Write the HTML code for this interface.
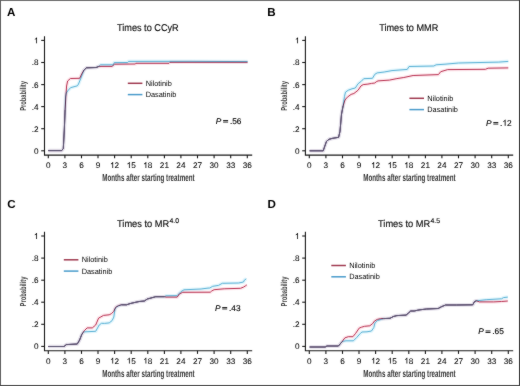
<!DOCTYPE html>
<html><head><meta charset="utf-8"><style>
html,body{margin:0;padding:0;background:#fff;}
body{width:520px;height:386px;overflow:hidden;}
svg{display:block;font-family:"Liberation Sans", sans-serif;text-rendering:geometricPrecision;}
.t{stroke:#000;stroke-width:0.14px;}
#w{width:520px;height:386px;will-change:transform;}
</style></head><body><div id="w">
<svg width="520" height="386" viewBox="0 0 520 386">
<defs><filter id="soft" x="0" y="0" width="520" height="386" filterUnits="userSpaceOnUse" color-interpolation-filters="sRGB"><feConvolveMatrix order="3" kernelMatrix="1 2 1 2 36 2 1 2 1" divisor="48" edgeMode="duplicate"/></filter>
</defs>
<g filter="url(#soft)">
<rect x="0" y="0" width="520" height="386" fill="#fff"/>

<text x="6.9" y="16.4" font-size="11.6" font-weight="bold" fill="#000">A</text>
<text x="117.0" y="30.9" font-size="9.9" fill="#111" class="t" textLength="61.7" lengthAdjust="spacingAndGlyphs">Times to CCyR</text>
<path d="M44.5,36.2 V155.1 H252.2" fill="none" stroke="#1a1a1a" stroke-width="1.1"/>
<line x1="41.2" y1="150.8" x2="44.5" y2="150.8" stroke="#1a1a1a" stroke-width="1.1"/>
<text x="38.5" y="153.7" font-size="8.2" fill="#000" stroke="#000" stroke-width="0.06" text-anchor="end">0</text>
<line x1="41.2" y1="128.7" x2="44.5" y2="128.7" stroke="#1a1a1a" stroke-width="1.1"/>
<text x="38.5" y="131.6" font-size="8.2" fill="#000" stroke="#000" stroke-width="0.06" text-anchor="end">.2</text>
<line x1="41.2" y1="106.6" x2="44.5" y2="106.6" stroke="#1a1a1a" stroke-width="1.1"/>
<text x="38.5" y="109.5" font-size="8.2" fill="#000" stroke="#000" stroke-width="0.06" text-anchor="end">.4</text>
<line x1="41.2" y1="84.6" x2="44.5" y2="84.6" stroke="#1a1a1a" stroke-width="1.1"/>
<text x="38.5" y="87.5" font-size="8.2" fill="#000" stroke="#000" stroke-width="0.06" text-anchor="end">.6</text>
<line x1="41.2" y1="62.5" x2="44.5" y2="62.5" stroke="#1a1a1a" stroke-width="1.1"/>
<text x="38.5" y="65.4" font-size="8.2" fill="#000" stroke="#000" stroke-width="0.06" text-anchor="end">.8</text>
<line x1="41.2" y1="40.4" x2="44.5" y2="40.4" stroke="#1a1a1a" stroke-width="1.1"/>
<path d="M763,0H583V1147Q518,1085 412,1023Q306,961 222,930V1104Q373,1175 486,1276Q599,1377 646,1472H763Z" fill="#000" stroke="#000" stroke-width="15" transform="translate(33.94,43.30) scale(0.004004,-0.004004)"/>
<line x1="48.3" y1="155.1" x2="48.3" y2="158.3" stroke="#1a1a1a" stroke-width="1.1"/>
<text x="48.3" y="168.0" font-size="8.2" fill="#000" stroke="#000" stroke-width="0.06" text-anchor="middle">0</text>
<line x1="64.9" y1="155.1" x2="64.9" y2="158.3" stroke="#1a1a1a" stroke-width="1.1"/>
<text x="64.9" y="168.0" font-size="8.2" fill="#000" stroke="#000" stroke-width="0.06" text-anchor="middle">3</text>
<line x1="81.5" y1="155.1" x2="81.5" y2="158.3" stroke="#1a1a1a" stroke-width="1.1"/>
<text x="81.5" y="168.0" font-size="8.2" fill="#000" stroke="#000" stroke-width="0.06" text-anchor="middle">6</text>
<line x1="98.0" y1="155.1" x2="98.0" y2="158.3" stroke="#1a1a1a" stroke-width="1.1"/>
<text x="98.0" y="168.0" font-size="8.2" fill="#000" stroke="#000" stroke-width="0.06" text-anchor="middle">9</text>
<line x1="114.6" y1="155.1" x2="114.6" y2="158.3" stroke="#1a1a1a" stroke-width="1.1"/>
<path d="M763,0H583V1147Q518,1085 412,1023Q306,961 222,930V1104Q373,1175 486,1276Q599,1377 646,1472H763Z" fill="#000" stroke="#000" stroke-width="15" transform="translate(110.06,168.00) scale(0.004004,-0.004004)"/>
<text x="114.62" y="168.0" font-size="8.2" fill="#000" stroke="#000" stroke-width="0.06">2</text>
<line x1="131.2" y1="155.1" x2="131.2" y2="158.3" stroke="#1a1a1a" stroke-width="1.1"/>
<path d="M763,0H583V1147Q518,1085 412,1023Q306,961 222,930V1104Q373,1175 486,1276Q599,1377 646,1472H763Z" fill="#000" stroke="#000" stroke-width="15" transform="translate(126.64,168.00) scale(0.004004,-0.004004)"/>
<text x="131.20" y="168.0" font-size="8.2" fill="#000" stroke="#000" stroke-width="0.06">5</text>
<line x1="147.8" y1="155.1" x2="147.8" y2="158.3" stroke="#1a1a1a" stroke-width="1.1"/>
<path d="M763,0H583V1147Q518,1085 412,1023Q306,961 222,930V1104Q373,1175 486,1276Q599,1377 646,1472H763Z" fill="#000" stroke="#000" stroke-width="15" transform="translate(143.22,168.00) scale(0.004004,-0.004004)"/>
<text x="147.78" y="168.0" font-size="8.2" fill="#000" stroke="#000" stroke-width="0.06">8</text>
<line x1="164.4" y1="155.1" x2="164.4" y2="158.3" stroke="#1a1a1a" stroke-width="1.1"/>
<text x="164.4" y="168.0" font-size="8.2" fill="#000" stroke="#000" stroke-width="0.06" text-anchor="middle">21</text>
<line x1="180.9" y1="155.1" x2="180.9" y2="158.3" stroke="#1a1a1a" stroke-width="1.1"/>
<text x="180.9" y="168.0" font-size="8.2" fill="#000" stroke="#000" stroke-width="0.06" text-anchor="middle">24</text>
<line x1="197.5" y1="155.1" x2="197.5" y2="158.3" stroke="#1a1a1a" stroke-width="1.1"/>
<text x="197.5" y="168.0" font-size="8.2" fill="#000" stroke="#000" stroke-width="0.06" text-anchor="middle">27</text>
<line x1="214.1" y1="155.1" x2="214.1" y2="158.3" stroke="#1a1a1a" stroke-width="1.1"/>
<text x="214.1" y="168.0" font-size="8.2" fill="#000" stroke="#000" stroke-width="0.06" text-anchor="middle">30</text>
<line x1="230.7" y1="155.1" x2="230.7" y2="158.3" stroke="#1a1a1a" stroke-width="1.1"/>
<text x="230.7" y="168.0" font-size="8.2" fill="#000" stroke="#000" stroke-width="0.06" text-anchor="middle">33</text>
<line x1="247.3" y1="155.1" x2="247.3" y2="158.3" stroke="#1a1a1a" stroke-width="1.1"/>
<text x="247.3" y="168.0" font-size="8.2" fill="#000" stroke="#000" stroke-width="0.06" text-anchor="middle">36</text>
<text x="102.2" y="181.3" font-size="10.2" font-weight="bold" fill="#333" textLength="92.4" lengthAdjust="spacingAndGlyphs">Months after starting treatment</text>
<text transform="translate(26.0,110.8) rotate(-90)" x="0" y="0" font-size="8.6" font-weight="bold" fill="#3a3a3a" textLength="29.8" lengthAdjust="spacingAndGlyphs">Probability</text>
<line x1="127.8" y1="83.3" x2="142.4" y2="83.3" stroke="#a03a50" stroke-width="1.5"/>
<line x1="127.8" y1="94.6" x2="142.4" y2="94.6" stroke="#4a9ccc" stroke-width="1.5"/>
<text x="145.7" y="85.8" font-size="7.6" fill="#000" textLength="26.1" lengthAdjust="spacingAndGlyphs">Nilotinib</text>
<text x="145.7" y="97.0" font-size="7.6" fill="#000" textLength="30.6" lengthAdjust="spacingAndGlyphs">Dasatinib</text>
<text x="215.8" y="123.7" font-size="8.3" fill="#000" stroke="#000" stroke-width="0.12" font-style="italic">P</text>
<rect x="223.1" y="120.10" width="5.0" height="0.9" fill="#111"/>
<rect x="223.1" y="121.60" width="5.0" height="0.9" fill="#111"/>
<text x="229.90" y="123.7" font-size="8.3" fill="#000" stroke="#000" stroke-width="0.12">.</text>
<text x="232.21" y="123.7" font-size="8.3" fill="#000" stroke="#000" stroke-width="0.12">5</text>
<text x="236.82" y="123.7" font-size="8.3" fill="#000" stroke="#000" stroke-width="0.12">6</text>
<polyline points="48.3,150.6 61.7,150.6 63.3,148.5 64.3,130.0 65.1,110.0 65.5,97.0 66.3,93.0 67.8,90.8 70.5,87.7 77.4,85.8 78.5,84.0 81.3,77.1 84.0,70.0 86.5,67.8 96.1,67.5 99.1,66.2 100.5,64.8 113.3,64.8 114.2,62.6 127.7,62.5 128.5,61.4 190.0,61.3 247.6,61.6" fill="none" stroke="#7fd4f0" stroke-opacity="0.22" stroke-width="3.6" stroke-linejoin="round"/>
<polyline points="48.3,150.6 61.7,150.6 63.3,148.5 64.3,130.0 65.1,110.0 65.9,96.0 66.6,86.0 67.6,81.0 70.4,78.5 79.7,78.3 81.7,74.0 84.0,70.0 86.5,67.8 96.1,67.5 99.1,66.4 112.0,66.4 114.6,64.2 135.4,64.0 135.8,63.3 169.0,63.3 170.0,62.3 247.6,62.3" fill="none" stroke="#f07090" stroke-opacity="0.16" stroke-width="3.6" stroke-linejoin="round"/>
<polyline points="48.3,150.6 61.7,150.6 63.3,148.5 64.3,130.0 65.1,110.0 65.5,97.0 66.3,93.0 67.8,90.8 70.5,87.7 77.4,85.8 78.5,84.0 81.3,77.1 84.0,70.0 86.5,67.8 96.1,67.5 99.1,66.2 100.5,64.8 113.3,64.8 114.2,62.6 127.7,62.5 128.5,61.4 190.0,61.3 247.6,61.6" fill="none" stroke="#5cb2d6" stroke-width="1.0" stroke-linejoin="round"/>
<polyline points="48.3,150.6 61.7,150.6 63.3,148.5 64.3,130.0 65.1,110.0 65.9,96.0 66.6,86.0 67.6,81.0 70.4,78.5 79.7,78.3 81.7,74.0 84.0,70.0 86.5,67.8 96.1,67.5 99.1,66.4 112.0,66.4 114.6,64.2 135.4,64.0 135.8,63.3 169.0,63.3 170.0,62.3 247.6,62.3" fill="none" stroke="#bb3a5a" stroke-width="1.0" stroke-linejoin="round" style="mix-blend-mode:multiply"/>
<polyline points="48.3,150.6 61.7,150.6 63.3,148.5 64.3,130.0 65.1,110.0" fill="none" stroke="#5e5874" stroke-width="1.0" stroke-linejoin="round"/>
<polyline points="84.0,70.0 86.5,67.8 96.1,67.5 99.1,66.3" fill="none" stroke="#5e5874" stroke-width="1.0" stroke-linejoin="round"/>
<text x="267.3" y="16.0" font-size="11.6" font-weight="bold" fill="#000">B</text>
<text x="379.2" y="30.9" font-size="9.9" fill="#111" class="t" textLength="59.1" lengthAdjust="spacingAndGlyphs">Times to MMR</text>
<path d="M305.4,36.2 V155.1 H513.2" fill="none" stroke="#1a1a1a" stroke-width="1.1"/>
<line x1="302.2" y1="150.8" x2="305.4" y2="150.8" stroke="#1a1a1a" stroke-width="1.1"/>
<text x="299.5" y="153.7" font-size="8.2" fill="#000" stroke="#000" stroke-width="0.06" text-anchor="end">0</text>
<line x1="302.2" y1="128.7" x2="305.4" y2="128.7" stroke="#1a1a1a" stroke-width="1.1"/>
<text x="299.5" y="131.6" font-size="8.2" fill="#000" stroke="#000" stroke-width="0.06" text-anchor="end">.2</text>
<line x1="302.2" y1="106.6" x2="305.4" y2="106.6" stroke="#1a1a1a" stroke-width="1.1"/>
<text x="299.5" y="109.5" font-size="8.2" fill="#000" stroke="#000" stroke-width="0.06" text-anchor="end">.4</text>
<line x1="302.2" y1="84.6" x2="305.4" y2="84.6" stroke="#1a1a1a" stroke-width="1.1"/>
<text x="299.5" y="87.5" font-size="8.2" fill="#000" stroke="#000" stroke-width="0.06" text-anchor="end">.6</text>
<line x1="302.2" y1="62.5" x2="305.4" y2="62.5" stroke="#1a1a1a" stroke-width="1.1"/>
<text x="299.5" y="65.4" font-size="8.2" fill="#000" stroke="#000" stroke-width="0.06" text-anchor="end">.8</text>
<line x1="302.2" y1="40.4" x2="305.4" y2="40.4" stroke="#1a1a1a" stroke-width="1.1"/>
<path d="M763,0H583V1147Q518,1085 412,1023Q306,961 222,930V1104Q373,1175 486,1276Q599,1377 646,1472H763Z" fill="#000" stroke="#000" stroke-width="15" transform="translate(294.94,43.30) scale(0.004004,-0.004004)"/>
<line x1="309.3" y1="155.1" x2="309.3" y2="158.3" stroke="#1a1a1a" stroke-width="1.1"/>
<text x="309.3" y="168.0" font-size="8.2" fill="#000" stroke="#000" stroke-width="0.06" text-anchor="middle">0</text>
<line x1="325.9" y1="155.1" x2="325.9" y2="158.3" stroke="#1a1a1a" stroke-width="1.1"/>
<text x="325.9" y="168.0" font-size="8.2" fill="#000" stroke="#000" stroke-width="0.06" text-anchor="middle">3</text>
<line x1="342.5" y1="155.1" x2="342.5" y2="158.3" stroke="#1a1a1a" stroke-width="1.1"/>
<text x="342.5" y="168.0" font-size="8.2" fill="#000" stroke="#000" stroke-width="0.06" text-anchor="middle">6</text>
<line x1="359.0" y1="155.1" x2="359.0" y2="158.3" stroke="#1a1a1a" stroke-width="1.1"/>
<text x="359.0" y="168.0" font-size="8.2" fill="#000" stroke="#000" stroke-width="0.06" text-anchor="middle">9</text>
<line x1="375.6" y1="155.1" x2="375.6" y2="158.3" stroke="#1a1a1a" stroke-width="1.1"/>
<path d="M763,0H583V1147Q518,1085 412,1023Q306,961 222,930V1104Q373,1175 486,1276Q599,1377 646,1472H763Z" fill="#000" stroke="#000" stroke-width="15" transform="translate(371.06,168.00) scale(0.004004,-0.004004)"/>
<text x="375.62" y="168.0" font-size="8.2" fill="#000" stroke="#000" stroke-width="0.06">2</text>
<line x1="392.2" y1="155.1" x2="392.2" y2="158.3" stroke="#1a1a1a" stroke-width="1.1"/>
<path d="M763,0H583V1147Q518,1085 412,1023Q306,961 222,930V1104Q373,1175 486,1276Q599,1377 646,1472H763Z" fill="#000" stroke="#000" stroke-width="15" transform="translate(387.64,168.00) scale(0.004004,-0.004004)"/>
<text x="392.20" y="168.0" font-size="8.2" fill="#000" stroke="#000" stroke-width="0.06">5</text>
<line x1="408.8" y1="155.1" x2="408.8" y2="158.3" stroke="#1a1a1a" stroke-width="1.1"/>
<path d="M763,0H583V1147Q518,1085 412,1023Q306,961 222,930V1104Q373,1175 486,1276Q599,1377 646,1472H763Z" fill="#000" stroke="#000" stroke-width="15" transform="translate(404.22,168.00) scale(0.004004,-0.004004)"/>
<text x="408.78" y="168.0" font-size="8.2" fill="#000" stroke="#000" stroke-width="0.06">8</text>
<line x1="425.4" y1="155.1" x2="425.4" y2="158.3" stroke="#1a1a1a" stroke-width="1.1"/>
<text x="425.4" y="168.0" font-size="8.2" fill="#000" stroke="#000" stroke-width="0.06" text-anchor="middle">21</text>
<line x1="441.9" y1="155.1" x2="441.9" y2="158.3" stroke="#1a1a1a" stroke-width="1.1"/>
<text x="441.9" y="168.0" font-size="8.2" fill="#000" stroke="#000" stroke-width="0.06" text-anchor="middle">24</text>
<line x1="458.5" y1="155.1" x2="458.5" y2="158.3" stroke="#1a1a1a" stroke-width="1.1"/>
<text x="458.5" y="168.0" font-size="8.2" fill="#000" stroke="#000" stroke-width="0.06" text-anchor="middle">27</text>
<line x1="475.1" y1="155.1" x2="475.1" y2="158.3" stroke="#1a1a1a" stroke-width="1.1"/>
<text x="475.1" y="168.0" font-size="8.2" fill="#000" stroke="#000" stroke-width="0.06" text-anchor="middle">30</text>
<line x1="491.7" y1="155.1" x2="491.7" y2="158.3" stroke="#1a1a1a" stroke-width="1.1"/>
<text x="491.7" y="168.0" font-size="8.2" fill="#000" stroke="#000" stroke-width="0.06" text-anchor="middle">33</text>
<line x1="508.3" y1="155.1" x2="508.3" y2="158.3" stroke="#1a1a1a" stroke-width="1.1"/>
<text x="508.3" y="168.0" font-size="8.2" fill="#000" stroke="#000" stroke-width="0.06" text-anchor="middle">36</text>
<text x="363.2" y="181.3" font-size="10.2" font-weight="bold" fill="#333" textLength="92.4" lengthAdjust="spacingAndGlyphs">Months after starting treatment</text>
<text transform="translate(287.0,110.8) rotate(-90)" x="0" y="0" font-size="8.6" font-weight="bold" fill="#3a3a3a" textLength="29.8" lengthAdjust="spacingAndGlyphs">Probability</text>
<line x1="409.4" y1="98.3" x2="424.0" y2="98.3" stroke="#a03a50" stroke-width="1.5"/>
<line x1="409.4" y1="109.6" x2="424.0" y2="109.6" stroke="#4a9ccc" stroke-width="1.5"/>
<text x="427.3" y="100.8" font-size="7.6" fill="#000" textLength="26.1" lengthAdjust="spacingAndGlyphs">Nilotinib</text>
<text x="427.3" y="112.0" font-size="7.6" fill="#000" textLength="30.6" lengthAdjust="spacingAndGlyphs">Dasatinib</text>
<text x="486.0" y="125.7" font-size="8.3" fill="#000" stroke="#000" stroke-width="0.12" font-style="italic">P</text>
<rect x="493.3" y="122.10" width="5.0" height="0.9" fill="#111"/>
<rect x="493.3" y="123.60" width="5.0" height="0.9" fill="#111"/>
<text x="500.10" y="125.7" font-size="8.3" fill="#000" stroke="#000" stroke-width="0.12">.</text>
<path d="M763,0H583V1147Q518,1085 412,1023Q306,961 222,930V1104Q373,1175 486,1276Q599,1377 646,1472H763Z" fill="#000" stroke="#000" stroke-width="30" transform="translate(502.41,125.70) scale(0.004053,-0.004053)"/>
<text x="507.02" y="125.7" font-size="8.3" fill="#000" stroke="#000" stroke-width="0.12">2</text>
<polyline points="309.6,150.8 323.2,150.8 324.5,147.0 326.5,141.3 329.0,139.3 332.2,138.4 338.6,137.3 340.0,131.3 341.5,114.2 343.1,106.0 344.5,96.3 345.5,92.1 348.3,90.2 352.0,88.8 355.3,88.0 358.1,83.7 361.3,81.3 363.7,78.7 372.5,78.3 374.8,74.3 377.2,72.9 384.2,72.0 392.0,70.6 407.3,69.4 409.0,66.5 433.8,66.0 436.1,64.8 445.0,64.2 458.5,63.0 498.8,62.1 508.3,61.4" fill="none" stroke="#7fd4f0" stroke-opacity="0.22" stroke-width="3.6" stroke-linejoin="round"/>
<polyline points="309.6,150.8 323.2,150.8 324.5,147.0 326.5,141.3 329.0,139.3 332.2,138.4 338.6,137.3 340.0,131.3 341.5,114.2 343.1,106.0 345.0,100.0 347.3,97.2 351.1,94.4 353.9,93.5 358.1,90.2 360.9,86.0 363.2,84.6 367.9,84.1 371.6,83.4 374.8,83.0 376.2,81.8 378.0,80.9 389.4,80.1 396.9,78.6 403.8,77.5 413.1,75.5 438.4,74.6 440.7,71.7 447.7,69.6 485.4,69.3 488.1,68.2 508.3,67.9" fill="none" stroke="#f07090" stroke-opacity="0.16" stroke-width="3.6" stroke-linejoin="round"/>
<polyline points="309.6,150.8 323.2,150.8 324.5,147.0 326.5,141.3 329.0,139.3 332.2,138.4 338.6,137.3 340.0,131.3 341.5,114.2 343.1,106.0 344.5,96.3 345.5,92.1 348.3,90.2 352.0,88.8 355.3,88.0 358.1,83.7 361.3,81.3 363.7,78.7 372.5,78.3 374.8,74.3 377.2,72.9 384.2,72.0 392.0,70.6 407.3,69.4 409.0,66.5 433.8,66.0 436.1,64.8 445.0,64.2 458.5,63.0 498.8,62.1 508.3,61.4" fill="none" stroke="#5cb2d6" stroke-width="1.0" stroke-linejoin="round"/>
<polyline points="309.6,150.8 323.2,150.8 324.5,147.0 326.5,141.3 329.0,139.3 332.2,138.4 338.6,137.3 340.0,131.3 341.5,114.2 343.1,106.0 345.0,100.0 347.3,97.2 351.1,94.4 353.9,93.5 358.1,90.2 360.9,86.0 363.2,84.6 367.9,84.1 371.6,83.4 374.8,83.0 376.2,81.8 378.0,80.9 389.4,80.1 396.9,78.6 403.8,77.5 413.1,75.5 438.4,74.6 440.7,71.7 447.7,69.6 485.4,69.3 488.1,68.2 508.3,67.9" fill="none" stroke="#bb3a5a" stroke-width="1.0" stroke-linejoin="round" style="mix-blend-mode:multiply"/>
<polyline points="309.6,150.8 323.2,150.8 324.5,147.0 326.5,141.3 329.0,139.3 332.2,138.4 338.6,137.3 340.0,131.3 341.5,114.2 343.1,106.0" fill="none" stroke="#5e5874" stroke-width="1.0" stroke-linejoin="round"/>
<text x="7.3" y="208.0" font-size="11.6" font-weight="bold" fill="#000">C</text>
<text x="117.0" y="226.5" font-size="9.9" fill="#111" class="t" textLength="52.2" lengthAdjust="spacingAndGlyphs">Times to MR</text>
<text x="169.5" y="222.9" font-size="6.9" fill="#111" class="t">4.0</text>
<path d="M44.5,231.8 V350.7 H252.2" fill="none" stroke="#1a1a1a" stroke-width="1.1"/>
<line x1="41.2" y1="346.4" x2="44.5" y2="346.4" stroke="#1a1a1a" stroke-width="1.1"/>
<text x="38.5" y="349.3" font-size="8.2" fill="#000" stroke="#000" stroke-width="0.06" text-anchor="end">0</text>
<line x1="41.2" y1="324.3" x2="44.5" y2="324.3" stroke="#1a1a1a" stroke-width="1.1"/>
<text x="38.5" y="327.2" font-size="8.2" fill="#000" stroke="#000" stroke-width="0.06" text-anchor="end">.2</text>
<line x1="41.2" y1="302.2" x2="44.5" y2="302.2" stroke="#1a1a1a" stroke-width="1.1"/>
<text x="38.5" y="305.1" font-size="8.2" fill="#000" stroke="#000" stroke-width="0.06" text-anchor="end">.4</text>
<line x1="41.2" y1="280.2" x2="44.5" y2="280.2" stroke="#1a1a1a" stroke-width="1.1"/>
<text x="38.5" y="283.1" font-size="8.2" fill="#000" stroke="#000" stroke-width="0.06" text-anchor="end">.6</text>
<line x1="41.2" y1="258.1" x2="44.5" y2="258.1" stroke="#1a1a1a" stroke-width="1.1"/>
<text x="38.5" y="261.0" font-size="8.2" fill="#000" stroke="#000" stroke-width="0.06" text-anchor="end">.8</text>
<line x1="41.2" y1="236.0" x2="44.5" y2="236.0" stroke="#1a1a1a" stroke-width="1.1"/>
<path d="M763,0H583V1147Q518,1085 412,1023Q306,961 222,930V1104Q373,1175 486,1276Q599,1377 646,1472H763Z" fill="#000" stroke="#000" stroke-width="15" transform="translate(33.94,238.90) scale(0.004004,-0.004004)"/>
<line x1="48.3" y1="350.7" x2="48.3" y2="353.9" stroke="#1a1a1a" stroke-width="1.1"/>
<text x="48.3" y="363.6" font-size="8.2" fill="#000" stroke="#000" stroke-width="0.06" text-anchor="middle">0</text>
<line x1="64.9" y1="350.7" x2="64.9" y2="353.9" stroke="#1a1a1a" stroke-width="1.1"/>
<text x="64.9" y="363.6" font-size="8.2" fill="#000" stroke="#000" stroke-width="0.06" text-anchor="middle">3</text>
<line x1="81.5" y1="350.7" x2="81.5" y2="353.9" stroke="#1a1a1a" stroke-width="1.1"/>
<text x="81.5" y="363.6" font-size="8.2" fill="#000" stroke="#000" stroke-width="0.06" text-anchor="middle">6</text>
<line x1="98.0" y1="350.7" x2="98.0" y2="353.9" stroke="#1a1a1a" stroke-width="1.1"/>
<text x="98.0" y="363.6" font-size="8.2" fill="#000" stroke="#000" stroke-width="0.06" text-anchor="middle">9</text>
<line x1="114.6" y1="350.7" x2="114.6" y2="353.9" stroke="#1a1a1a" stroke-width="1.1"/>
<path d="M763,0H583V1147Q518,1085 412,1023Q306,961 222,930V1104Q373,1175 486,1276Q599,1377 646,1472H763Z" fill="#000" stroke="#000" stroke-width="15" transform="translate(110.06,363.60) scale(0.004004,-0.004004)"/>
<text x="114.62" y="363.6" font-size="8.2" fill="#000" stroke="#000" stroke-width="0.06">2</text>
<line x1="131.2" y1="350.7" x2="131.2" y2="353.9" stroke="#1a1a1a" stroke-width="1.1"/>
<path d="M763,0H583V1147Q518,1085 412,1023Q306,961 222,930V1104Q373,1175 486,1276Q599,1377 646,1472H763Z" fill="#000" stroke="#000" stroke-width="15" transform="translate(126.64,363.60) scale(0.004004,-0.004004)"/>
<text x="131.20" y="363.6" font-size="8.2" fill="#000" stroke="#000" stroke-width="0.06">5</text>
<line x1="147.8" y1="350.7" x2="147.8" y2="353.9" stroke="#1a1a1a" stroke-width="1.1"/>
<path d="M763,0H583V1147Q518,1085 412,1023Q306,961 222,930V1104Q373,1175 486,1276Q599,1377 646,1472H763Z" fill="#000" stroke="#000" stroke-width="15" transform="translate(143.22,363.60) scale(0.004004,-0.004004)"/>
<text x="147.78" y="363.6" font-size="8.2" fill="#000" stroke="#000" stroke-width="0.06">8</text>
<line x1="164.4" y1="350.7" x2="164.4" y2="353.9" stroke="#1a1a1a" stroke-width="1.1"/>
<text x="164.4" y="363.6" font-size="8.2" fill="#000" stroke="#000" stroke-width="0.06" text-anchor="middle">21</text>
<line x1="180.9" y1="350.7" x2="180.9" y2="353.9" stroke="#1a1a1a" stroke-width="1.1"/>
<text x="180.9" y="363.6" font-size="8.2" fill="#000" stroke="#000" stroke-width="0.06" text-anchor="middle">24</text>
<line x1="197.5" y1="350.7" x2="197.5" y2="353.9" stroke="#1a1a1a" stroke-width="1.1"/>
<text x="197.5" y="363.6" font-size="8.2" fill="#000" stroke="#000" stroke-width="0.06" text-anchor="middle">27</text>
<line x1="214.1" y1="350.7" x2="214.1" y2="353.9" stroke="#1a1a1a" stroke-width="1.1"/>
<text x="214.1" y="363.6" font-size="8.2" fill="#000" stroke="#000" stroke-width="0.06" text-anchor="middle">30</text>
<line x1="230.7" y1="350.7" x2="230.7" y2="353.9" stroke="#1a1a1a" stroke-width="1.1"/>
<text x="230.7" y="363.6" font-size="8.2" fill="#000" stroke="#000" stroke-width="0.06" text-anchor="middle">33</text>
<line x1="247.3" y1="350.7" x2="247.3" y2="353.9" stroke="#1a1a1a" stroke-width="1.1"/>
<text x="247.3" y="363.6" font-size="8.2" fill="#000" stroke="#000" stroke-width="0.06" text-anchor="middle">36</text>
<text x="102.2" y="376.9" font-size="10.2" font-weight="bold" fill="#333" textLength="92.4" lengthAdjust="spacingAndGlyphs">Months after starting treatment</text>
<text transform="translate(26.0,306.4) rotate(-90)" x="0" y="0" font-size="8.6" font-weight="bold" fill="#3a3a3a" textLength="29.8" lengthAdjust="spacingAndGlyphs">Probability</text>
<line x1="63.8" y1="259.8" x2="78.4" y2="259.8" stroke="#a03a50" stroke-width="1.5"/>
<line x1="63.8" y1="271.1" x2="78.4" y2="271.1" stroke="#4a9ccc" stroke-width="1.5"/>
<text x="81.7" y="262.3" font-size="7.6" fill="#000" textLength="26.1" lengthAdjust="spacingAndGlyphs">Nilotinib</text>
<text x="81.7" y="273.5" font-size="7.6" fill="#000" textLength="30.6" lengthAdjust="spacingAndGlyphs">Dasatinib</text>
<text x="214.9" y="310.6" font-size="8.3" fill="#000" stroke="#000" stroke-width="0.12" font-style="italic">P</text>
<rect x="222.2" y="307.00" width="5.0" height="0.9" fill="#111"/>
<rect x="222.2" y="308.50" width="5.0" height="0.9" fill="#111"/>
<text x="229.00" y="310.6" font-size="8.3" fill="#000" stroke="#000" stroke-width="0.12">.</text>
<text x="231.31" y="310.6" font-size="8.3" fill="#000" stroke="#000" stroke-width="0.12">4</text>
<text x="235.92" y="310.6" font-size="8.3" fill="#000" stroke="#000" stroke-width="0.12">3</text>
<polyline points="48.3,346.5 64.0,346.5 66.3,344.6 77.3,344.0 79.6,340.0 81.9,334.2 83.6,331.9 95.7,331.3 99.2,325.0 101.5,323.3 104.6,323.4 109.2,322.9 112.1,320.6 113.8,317.1 115.0,309.0 116.7,306.7 121.3,304.8 126.5,304.8 130.0,303.6 134.6,302.5 139.2,301.5 144.4,301.0 147.3,299.0 151.0,298.0 155.7,296.7 164.5,296.7 166.0,295.8 177.2,295.6 181.0,291.6 184.0,289.8 201.1,289.0 208.0,288.1 209.8,288.0 212.7,286.3 218.5,285.4 222.3,283.3 238.7,283.0 243.5,282.0 244.4,280.1 246.3,278.8" fill="none" stroke="#7fd4f0" stroke-opacity="0.22" stroke-width="3.6" stroke-linejoin="round"/>
<polyline points="48.3,346.5 64.0,346.5 66.3,344.6 77.3,344.0 79.6,340.0 81.9,334.2 84.2,330.8 87.1,327.9 92.3,327.9 95.7,325.0 98.6,318.1 100.9,316.9 103.5,315.4 109.2,314.8 111.5,313.6 113.8,311.3 115.6,307.3 118.5,305.6 121.3,304.8 126.5,304.8 130.0,303.6 134.6,302.5 139.2,301.5 144.4,301.0 147.3,299.0 151.0,298.0 155.7,296.7 164.5,296.7 166.0,297.1 177.2,297.1 179.5,293.9 182.7,292.3 210.3,292.2 211.7,291.0 214.1,289.7 224.2,288.8 240.6,288.3 243.5,287.1 245.4,285.9 246.8,284.9" fill="none" stroke="#f07090" stroke-opacity="0.16" stroke-width="3.6" stroke-linejoin="round"/>
<polyline points="48.3,346.5 64.0,346.5 66.3,344.6 77.3,344.0 79.6,340.0 81.9,334.2 83.6,331.9 95.7,331.3 99.2,325.0 101.5,323.3 104.6,323.4 109.2,322.9 112.1,320.6 113.8,317.1 115.0,309.0 116.7,306.7 121.3,304.8 126.5,304.8 130.0,303.6 134.6,302.5 139.2,301.5 144.4,301.0 147.3,299.0 151.0,298.0 155.7,296.7 164.5,296.7 166.0,295.8 177.2,295.6 181.0,291.6 184.0,289.8 201.1,289.0 208.0,288.1 209.8,288.0 212.7,286.3 218.5,285.4 222.3,283.3 238.7,283.0 243.5,282.0 244.4,280.1 246.3,278.8" fill="none" stroke="#5cb2d6" stroke-width="1.0" stroke-linejoin="round"/>
<polyline points="48.3,346.5 64.0,346.5 66.3,344.6 77.3,344.0 79.6,340.0 81.9,334.2 84.2,330.8 87.1,327.9 92.3,327.9 95.7,325.0 98.6,318.1 100.9,316.9 103.5,315.4 109.2,314.8 111.5,313.6 113.8,311.3 115.6,307.3 118.5,305.6 121.3,304.8 126.5,304.8 130.0,303.6 134.6,302.5 139.2,301.5 144.4,301.0 147.3,299.0 151.0,298.0 155.7,296.7 164.5,296.7 166.0,297.1 177.2,297.1 179.5,293.9 182.7,292.3 210.3,292.2 211.7,291.0 214.1,289.7 224.2,288.8 240.6,288.3 243.5,287.1 245.4,285.9 246.8,284.9" fill="none" stroke="#bb3a5a" stroke-width="1.0" stroke-linejoin="round" style="mix-blend-mode:multiply"/>
<polyline points="48.3,346.5 64.0,346.5 66.3,344.6 77.3,344.0 79.6,340.0 81.9,334.2" fill="none" stroke="#5e5874" stroke-width="1.0" stroke-linejoin="round"/>
<polyline points="121.3,304.8 126.5,304.8 130.0,303.6 134.6,302.5 139.2,301.5 144.4,301.0 147.3,299.0 151.0,298.0 155.7,296.7 164.5,296.7" fill="none" stroke="#5e5874" stroke-width="1.0" stroke-linejoin="round"/>
<text x="267.5" y="208.4" font-size="11.6" font-weight="bold" fill="#000">D</text>
<text x="378.0" y="226.5" font-size="9.9" fill="#111" class="t" textLength="52.2" lengthAdjust="spacingAndGlyphs">Times to MR</text>
<text x="430.5" y="222.9" font-size="6.9" fill="#111" class="t">4.5</text>
<path d="M305.4,231.8 V350.7 H513.2" fill="none" stroke="#1a1a1a" stroke-width="1.1"/>
<line x1="302.2" y1="346.4" x2="305.4" y2="346.4" stroke="#1a1a1a" stroke-width="1.1"/>
<text x="299.5" y="349.3" font-size="8.2" fill="#000" stroke="#000" stroke-width="0.06" text-anchor="end">0</text>
<line x1="302.2" y1="324.3" x2="305.4" y2="324.3" stroke="#1a1a1a" stroke-width="1.1"/>
<text x="299.5" y="327.2" font-size="8.2" fill="#000" stroke="#000" stroke-width="0.06" text-anchor="end">.2</text>
<line x1="302.2" y1="302.2" x2="305.4" y2="302.2" stroke="#1a1a1a" stroke-width="1.1"/>
<text x="299.5" y="305.1" font-size="8.2" fill="#000" stroke="#000" stroke-width="0.06" text-anchor="end">.4</text>
<line x1="302.2" y1="280.2" x2="305.4" y2="280.2" stroke="#1a1a1a" stroke-width="1.1"/>
<text x="299.5" y="283.1" font-size="8.2" fill="#000" stroke="#000" stroke-width="0.06" text-anchor="end">.6</text>
<line x1="302.2" y1="258.1" x2="305.4" y2="258.1" stroke="#1a1a1a" stroke-width="1.1"/>
<text x="299.5" y="261.0" font-size="8.2" fill="#000" stroke="#000" stroke-width="0.06" text-anchor="end">.8</text>
<line x1="302.2" y1="236.0" x2="305.4" y2="236.0" stroke="#1a1a1a" stroke-width="1.1"/>
<path d="M763,0H583V1147Q518,1085 412,1023Q306,961 222,930V1104Q373,1175 486,1276Q599,1377 646,1472H763Z" fill="#000" stroke="#000" stroke-width="15" transform="translate(294.94,238.90) scale(0.004004,-0.004004)"/>
<line x1="309.3" y1="350.7" x2="309.3" y2="353.9" stroke="#1a1a1a" stroke-width="1.1"/>
<text x="309.3" y="363.6" font-size="8.2" fill="#000" stroke="#000" stroke-width="0.06" text-anchor="middle">0</text>
<line x1="325.9" y1="350.7" x2="325.9" y2="353.9" stroke="#1a1a1a" stroke-width="1.1"/>
<text x="325.9" y="363.6" font-size="8.2" fill="#000" stroke="#000" stroke-width="0.06" text-anchor="middle">3</text>
<line x1="342.5" y1="350.7" x2="342.5" y2="353.9" stroke="#1a1a1a" stroke-width="1.1"/>
<text x="342.5" y="363.6" font-size="8.2" fill="#000" stroke="#000" stroke-width="0.06" text-anchor="middle">6</text>
<line x1="359.0" y1="350.7" x2="359.0" y2="353.9" stroke="#1a1a1a" stroke-width="1.1"/>
<text x="359.0" y="363.6" font-size="8.2" fill="#000" stroke="#000" stroke-width="0.06" text-anchor="middle">9</text>
<line x1="375.6" y1="350.7" x2="375.6" y2="353.9" stroke="#1a1a1a" stroke-width="1.1"/>
<path d="M763,0H583V1147Q518,1085 412,1023Q306,961 222,930V1104Q373,1175 486,1276Q599,1377 646,1472H763Z" fill="#000" stroke="#000" stroke-width="15" transform="translate(371.06,363.60) scale(0.004004,-0.004004)"/>
<text x="375.62" y="363.6" font-size="8.2" fill="#000" stroke="#000" stroke-width="0.06">2</text>
<line x1="392.2" y1="350.7" x2="392.2" y2="353.9" stroke="#1a1a1a" stroke-width="1.1"/>
<path d="M763,0H583V1147Q518,1085 412,1023Q306,961 222,930V1104Q373,1175 486,1276Q599,1377 646,1472H763Z" fill="#000" stroke="#000" stroke-width="15" transform="translate(387.64,363.60) scale(0.004004,-0.004004)"/>
<text x="392.20" y="363.6" font-size="8.2" fill="#000" stroke="#000" stroke-width="0.06">5</text>
<line x1="408.8" y1="350.7" x2="408.8" y2="353.9" stroke="#1a1a1a" stroke-width="1.1"/>
<path d="M763,0H583V1147Q518,1085 412,1023Q306,961 222,930V1104Q373,1175 486,1276Q599,1377 646,1472H763Z" fill="#000" stroke="#000" stroke-width="15" transform="translate(404.22,363.60) scale(0.004004,-0.004004)"/>
<text x="408.78" y="363.6" font-size="8.2" fill="#000" stroke="#000" stroke-width="0.06">8</text>
<line x1="425.4" y1="350.7" x2="425.4" y2="353.9" stroke="#1a1a1a" stroke-width="1.1"/>
<text x="425.4" y="363.6" font-size="8.2" fill="#000" stroke="#000" stroke-width="0.06" text-anchor="middle">21</text>
<line x1="441.9" y1="350.7" x2="441.9" y2="353.9" stroke="#1a1a1a" stroke-width="1.1"/>
<text x="441.9" y="363.6" font-size="8.2" fill="#000" stroke="#000" stroke-width="0.06" text-anchor="middle">24</text>
<line x1="458.5" y1="350.7" x2="458.5" y2="353.9" stroke="#1a1a1a" stroke-width="1.1"/>
<text x="458.5" y="363.6" font-size="8.2" fill="#000" stroke="#000" stroke-width="0.06" text-anchor="middle">27</text>
<line x1="475.1" y1="350.7" x2="475.1" y2="353.9" stroke="#1a1a1a" stroke-width="1.1"/>
<text x="475.1" y="363.6" font-size="8.2" fill="#000" stroke="#000" stroke-width="0.06" text-anchor="middle">30</text>
<line x1="491.7" y1="350.7" x2="491.7" y2="353.9" stroke="#1a1a1a" stroke-width="1.1"/>
<text x="491.7" y="363.6" font-size="8.2" fill="#000" stroke="#000" stroke-width="0.06" text-anchor="middle">33</text>
<line x1="508.3" y1="350.7" x2="508.3" y2="353.9" stroke="#1a1a1a" stroke-width="1.1"/>
<text x="508.3" y="363.6" font-size="8.2" fill="#000" stroke="#000" stroke-width="0.06" text-anchor="middle">36</text>
<text x="363.2" y="376.9" font-size="10.2" font-weight="bold" fill="#333" textLength="92.4" lengthAdjust="spacingAndGlyphs">Months after starting treatment</text>
<text transform="translate(287.0,306.4) rotate(-90)" x="0" y="0" font-size="8.6" font-weight="bold" fill="#3a3a3a" textLength="29.8" lengthAdjust="spacingAndGlyphs">Probability</text>
<line x1="331.3" y1="265.5" x2="345.9" y2="265.5" stroke="#a03a50" stroke-width="1.5"/>
<line x1="331.3" y1="276.8" x2="345.9" y2="276.8" stroke="#4a9ccc" stroke-width="1.5"/>
<text x="349.2" y="268.0" font-size="7.6" fill="#000" textLength="26.1" lengthAdjust="spacingAndGlyphs">Nilotinib</text>
<text x="349.2" y="279.2" font-size="7.6" fill="#000" textLength="30.6" lengthAdjust="spacingAndGlyphs">Dasatinib</text>
<text x="478.2" y="334.1" font-size="8.3" fill="#000" stroke="#000" stroke-width="0.12" font-style="italic">P</text>
<rect x="485.5" y="330.50" width="5.0" height="0.9" fill="#111"/>
<rect x="485.5" y="332.00" width="5.0" height="0.9" fill="#111"/>
<text x="492.30" y="334.1" font-size="8.3" fill="#000" stroke="#000" stroke-width="0.12">.</text>
<text x="494.61" y="334.1" font-size="8.3" fill="#000" stroke="#000" stroke-width="0.12">6</text>
<text x="499.22" y="334.1" font-size="8.3" fill="#000" stroke="#000" stroke-width="0.12">5</text>
<polyline points="309.6,347.0 325.2,347.0 326.9,346.0 338.4,346.0 341.9,341.9 343.1,341.3 346.0,340.8 353.4,340.8 356.9,337.3 360.4,333.3 362.0,332.0 367.0,331.8 371.5,331.0 373.8,327.5 375.0,322.9 377.3,320.6 381.3,319.4 383.6,318.6 390.0,318.3 393.4,316.5 396.9,315.6 406.1,315.1 408.4,313.1 410.7,311.0 414.2,311.0 417.7,310.2 420.0,309.8 426.5,309.0 438.1,308.5 441.5,306.7 445.6,305.0 456.5,305.0 472.7,304.8 474.6,301.5 476.5,300.8 486.2,299.7 501.5,298.8 503.5,297.6 507.8,297.1" fill="none" stroke="#7fd4f0" stroke-opacity="0.22" stroke-width="3.6" stroke-linejoin="round"/>
<polyline points="309.6,347.0 325.2,347.0 326.9,346.0 338.4,346.0 341.9,341.9 344.8,337.9 348.3,336.7 352.9,336.7 355.7,333.3 359.2,328.1 361.5,327.2 364.6,326.3 369.8,325.8 372.7,323.5 374.4,321.1 377.3,319.4 380.8,318.6 383.6,318.6 390.0,318.3 393.4,316.5 396.9,315.6 406.1,315.1 408.4,313.1 410.7,311.0 414.2,311.0 417.7,310.2 420.0,309.8 426.5,309.0 438.1,308.5 441.5,306.7 445.6,305.0 456.5,305.0 472.7,304.8 474.6,301.5 476.5,300.8 479.4,301.9 493.8,301.9 501.5,301.5 507.8,301.0" fill="none" stroke="#f07090" stroke-opacity="0.16" stroke-width="3.6" stroke-linejoin="round"/>
<polyline points="309.6,347.0 325.2,347.0 326.9,346.0 338.4,346.0 341.9,341.9 343.1,341.3 346.0,340.8 353.4,340.8 356.9,337.3 360.4,333.3 362.0,332.0 367.0,331.8 371.5,331.0 373.8,327.5 375.0,322.9 377.3,320.6 381.3,319.4 383.6,318.6 390.0,318.3 393.4,316.5 396.9,315.6 406.1,315.1 408.4,313.1 410.7,311.0 414.2,311.0 417.7,310.2 420.0,309.8 426.5,309.0 438.1,308.5 441.5,306.7 445.6,305.0 456.5,305.0 472.7,304.8 474.6,301.5 476.5,300.8 486.2,299.7 501.5,298.8 503.5,297.6 507.8,297.1" fill="none" stroke="#5cb2d6" stroke-width="1.0" stroke-linejoin="round"/>
<polyline points="309.6,347.0 325.2,347.0 326.9,346.0 338.4,346.0 341.9,341.9 344.8,337.9 348.3,336.7 352.9,336.7 355.7,333.3 359.2,328.1 361.5,327.2 364.6,326.3 369.8,325.8 372.7,323.5 374.4,321.1 377.3,319.4 380.8,318.6 383.6,318.6 390.0,318.3 393.4,316.5 396.9,315.6 406.1,315.1 408.4,313.1 410.7,311.0 414.2,311.0 417.7,310.2 420.0,309.8 426.5,309.0 438.1,308.5 441.5,306.7 445.6,305.0 456.5,305.0 472.7,304.8 474.6,301.5 476.5,300.8 479.4,301.9 493.8,301.9 501.5,301.5 507.8,301.0" fill="none" stroke="#bb3a5a" stroke-width="1.0" stroke-linejoin="round" style="mix-blend-mode:multiply"/>
<polyline points="309.6,347.0 325.2,347.0 326.9,346.0 338.4,346.0 341.9,341.9" fill="none" stroke="#5e5874" stroke-width="1.0" stroke-linejoin="round"/>
<polyline points="383.6,318.6 390.0,318.3 393.4,316.5 396.9,315.6 406.1,315.1 408.4,313.1 410.7,311.0 414.2,311.0 417.7,310.2 420.0,309.8 426.5,309.0 438.1,308.5 441.5,306.7 445.6,305.0 456.5,305.0 472.7,304.8 474.6,301.5 476.5,300.8" fill="none" stroke="#5e5874" stroke-width="1.0" stroke-linejoin="round"/>
<rect x="0" y="0" width="520" height="1" fill="#6e6e6e"/>
<rect x="0" y="0" width="1" height="386" fill="#606060"/>
<rect x="519" y="0" width="1" height="386" fill="#383838"/>
<rect x="0" y="385" width="520" height="1" fill="#4a4a4a"/>
</g></svg></div>
</body></html>
